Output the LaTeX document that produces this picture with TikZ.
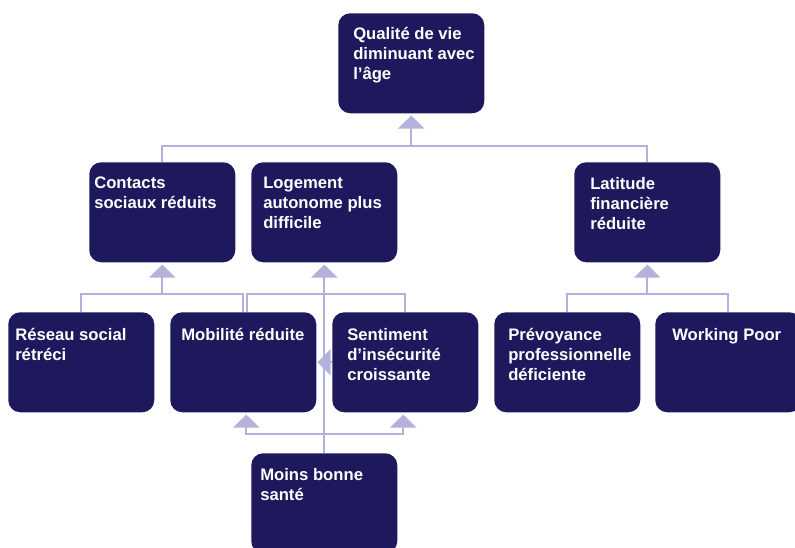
\documentclass[tikz,border=0pt]{standalone}
\usepackage{fontspec}
\setmainfont{Liberation Sans}
\usetikzlibrary{arrows.meta,calc}
\definecolor{boxnavy}{RGB}{30,25,92}
\definecolor{linklav}{RGB}{180,178,218}
% invisible strut fixing the height of each label's first line
\newcommand\tstrut{\rule{0pt}{10pt}}

\begin{document}
\begin{tikzpicture}[x=0.75pt,y=-0.75pt,
  box/.style={draw=none, fill=boxnavy, rounded corners=9pt,
    minimum width=109.5pt, minimum height=75pt, inner sep=0pt, anchor=north west},
  lbl/.style={text=white, font={\fontsize{12.5pt}{15pt}\selectfont\bfseries},
    align=left, inner sep=0pt, anchor=north west},
  link/.style={draw=linklav, line width=1.5pt},
  up/.style={link, -{Triangle[width=19.5pt,length=9.75pt]}, shorten >=1.5pt}]
\clip (0,0) rectangle (795,547);

% boxes
\node[box] (q) at (338,13)  {};
\node[box] (c) at (89,162)  {};
\node[box] (l) at (251,162) {};
\node[box] (f) at (574,162) {};
\node[box] (r) at (8,312)   {};
\node[box] (m) at (170,312) {};
\node[box] (s) at (332,312) {};
\node[box] (p) at (494,312) {};
\node[box] (w) at (655,312) {};
\node[box] (b) at (251,453) {};

% labels
\node[lbl] (tq) at ($(q.north west)+(15,12.7)$) {\tstrut Qualité de vie\\diminuant avec\\l’âge};
\node[lbl] (tc) at ($(c.north west)+(5,12.7)$)  {\tstrut Contacts\\sociaux réduits};
\node[lbl] (tl) at ($(l.north west)+(12,12.7)$) {\tstrut Logement\\autonome plus\\difficile};
\node[lbl] (tf) at ($(f.north west)+(16,13.7)$) {\tstrut Latitude\\financière\\réduite};
\node[lbl] (tr) at ($(r.north west)+(7,14.7)$)  {\tstrut Réseau social\\rétréci};
\node[lbl] (tm) at ($(m.north west)+(11,14.7)$) {\tstrut Mobilité réduite};
\node[lbl] (ts) at ($(s.north west)+(15,14.7)$) {\tstrut Sentiment\\d’insécurité\\croissante};
\node[lbl] (tp) at ($(p.north west)+(14,14.7)$) {\tstrut Prévoyance\\professionnelle\\déficiente};
\node[lbl] (tw) at ($(w.north west)+(17,14.7)$) {\tstrut Working Poor};
\node[lbl] (tb) at ($(b.north west)+(9,13.7)$)  {\tstrut Moins bonne\\santé};

% top level
\coordinate (qbus) at ($(q.south)+(0,32)$);
\draw[link] (c.north) |- (qbus) -| (f.north);
\draw[up] (qbus) -- (q.south);

% social contacts
\coordinate (cbus) at ($(c.south)+(0,31)$);
\draw[link] (r.north) |- (cbus) -| (m.north);
\draw[up] (cbus) -- (c.south);

% housing
\coordinate (lbus) at ($(l.south)+(0,31)$);
\draw[link] ($(m.north)+(4,0)$) |- (lbus) -| (s.north);
\draw[up] (b.north) -- (l.south);

% finances
\coordinate (fbus) at ($(f.south)+(0,31)$);
\draw[link] (p.north) |- (fbus) -| (w.north);
\draw[up] (fbus) -- (f.south);

% health
\coordinate (bbus) at ($(b.north)+(0,-19)$);
\draw[up] (bbus) -| ($(m.south)+(3,0)$);
\draw[up] (bbus) -| ($(s.south)+(-2,0)$);

% insecurity -> mobility
\draw[up, shorten >=0.75pt] (s.west) -- (m.east);
\end{tikzpicture}
\end{document}
